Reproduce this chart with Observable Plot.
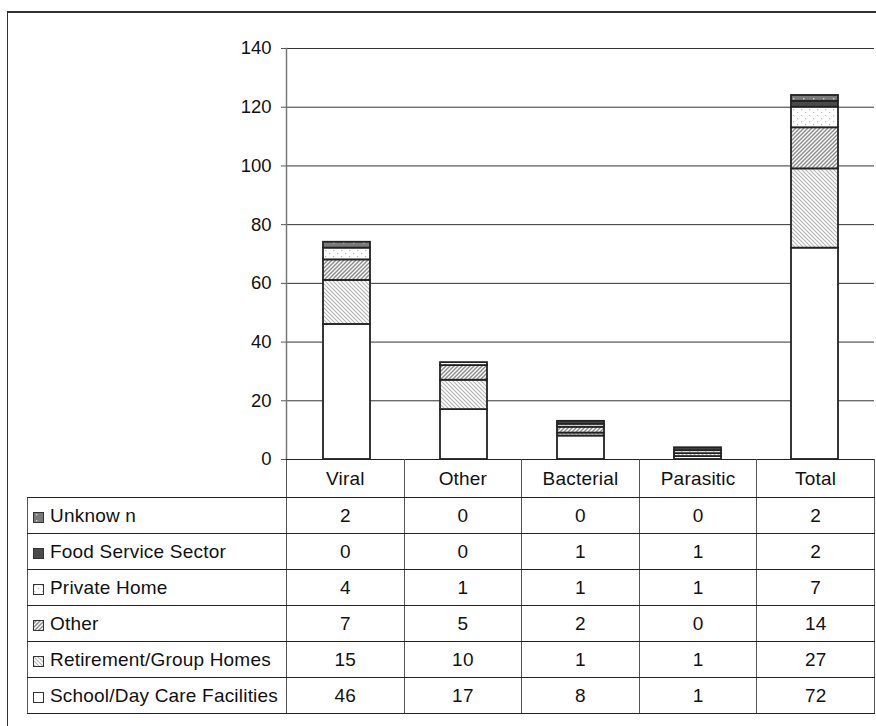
<!DOCTYPE html>
<html>
<head>
<meta charset="utf-8">
<script src="https://cdn.jsdelivr.net/npm/d3@7"></script>
<script src="https://cdn.jsdelivr.net/npm/@observablehq/plot@0.6"></script>
<style>
  body { margin: 0; background: #fff; font-family: "Liberation Sans", Arial, sans-serif; }
  #wrap { position: relative; width: 876px; height: 726px; overflow: hidden; }
  #frame { position: absolute; left: 7px; top: 11px; width: 900px; height: 800px;
           border-left: 1.5px solid #333; border-top: 2px solid #333; }
  #chart { position: absolute; left: 0; top: 0; }
  #defs { position: absolute; left: 0; top: 0; width: 0; height: 0; }
  #tbl { position: absolute; left: 27px; top: 459px; border-collapse: collapse;
         table-layout: fixed; font-size: 19px; letter-spacing: 0.2px; color: #111; }
  #tbl td { padding: 0; border-top: 1px solid #222; border-bottom: 1px solid #222;
            border-left: 1px solid #555; border-right: 1px solid #555;
            text-align: center; height: 35px; white-space: nowrap; }
  #tbl tr.head td { height: 37px; }
  #tbl tr.head td.blank { border: none; }
  #tbl td.label { text-align: left; padding-left: 5px; }
  #tbl td.label svg { vertical-align: -1px; margin-right: 6px; }
</style>
</head>
<body>
<div id="wrap">
  <div id="frame"></div>
  <svg id="defs" width="0" height="0">
    <defs>
      <pattern id="pat-retire" patternUnits="userSpaceOnUse" width="4" height="4">
        <rect width="4" height="4" fill="#fff"/>
        <path d="M-1,-1 L5,5 M3,-1 L5,1 M-1,3 L1,5" stroke="#b4b4b4" stroke-width="1.1"/>
      </pattern>
      <pattern id="pat-other" patternUnits="userSpaceOnUse" width="4" height="4">
        <rect width="4" height="4" fill="#fff"/>
        <path d="M-1,5 L5,-1 M-1,1 L1,-1 M3,5 L5,3" stroke="#8c8c8c" stroke-width="1.5"/>
      </pattern>
      <pattern id="pat-private" patternUnits="userSpaceOnUse" width="8" height="6">
        <rect width="8" height="6" fill="#fff"/>
        <rect x="1" y="1" width="1.2" height="1.2" fill="#bdbdbd"/>
        <rect x="5" y="4" width="1.2" height="1.2" fill="#bdbdbd"/>
      </pattern>
      <pattern id="pat-unknown" patternUnits="userSpaceOnUse" width="10" height="6">
        <rect width="10" height="6" fill="#7a7a7a"/>
        <rect x="3" y="2" width="1.4" height="1.4" fill="#cfcfcf"/>
      </pattern>
    </defs>
  </svg>
  <div id="chart"></div>
  <table id="tbl"></table>
</div>
<script>
// Outbreak counts by agent group (columns) and setting (stack layers, bottom first)
const categories = ["Viral", "Other", "Bacterial", "Parasitic", "Total"];
const settings = ["School/Day Care Facilities", "Retirement/Group Homes", "Other",
                  "Private Home", "Food Service Sector", "Unknow n"];
const schoolDayCare   = [46, 17, 8, 1, 72];
const retirementGroup = [15, 10, 1, 1, 27];
const otherSetting    = [7, 5, 2, 0, 14];
const privateHome     = [4, 1, 1, 1, 7];
const foodService     = [0, 0, 1, 1, 2];
const unknownSetting  = [2, 0, 0, 0, 2];
const yTicks = [0, 20, 40, 60, 80, 100, 120, 140];

const seriesValues = [schoolDayCare, retirementGroup, otherSetting, privateHome, foodService, unknownSetting];
const fills = ["#ffffff", "url(#pat-retire)", "url(#pat-other)", "url(#pat-private)", "#4a4a4a", "url(#pat-unknown)"];

const rows = [];
settings.forEach((s, i) => {
  categories.forEach((c, j) => rows.push({category: c, setting: s, count: seriesValues[i][j]}));
});

const chart = Plot.plot({
  width: 876,
  height: 480,
  marginLeft: 286,
  marginRight: 2,
  marginTop: 48,
  marginBottom: 21,
  style: {fontFamily: "'Liberation Sans', Arial, sans-serif", fontSize: "18.5px", color: "#111", background: "transparent"},
  x: {domain: categories, paddingInner: 0.6, paddingOuter: 0.3, axis: null},
  y: {domain: [0, 140], axis: null},
  color: {domain: settings, range: fills},
  marks: [
    Plot.ruleY(yTicks.filter(d => d > 0), {stroke: "#333", strokeWidth: 1}),
    Plot.frame({anchor: "left", stroke: "#777", strokeWidth: 1.5}),
    Plot.axisY(yTicks, {tickSize: 5, tickPadding: 10, stroke: "#555", fontSize: 18.5, label: null}),
    Plot.barY(rows.filter(d => d.count > 0), Plot.stackY({
      x: "category", y: "count", fill: "setting", stroke: "#222", strokeWidth: 1.8
    }))
  ]
});
document.getElementById("chart").appendChild(chart);

// Data table under the bars: header row of categories, then one row per setting (top layer first)
const tbl = d3.select("#tbl");
const cg = tbl.append("colgroup");
cg.append("col").style("width", "259px");
categories.forEach(() => cg.append("col").style("width", "117.6px"));
const head = tbl.append("tr").attr("class", "head");
head.append("td").attr("class", "blank");
categories.forEach(c => head.append("td").text(c));
settings.map((s, i) => i).reverse().forEach(i => {
  const tr = tbl.append("tr");
  const lab = tr.append("td").attr("class", "label");
  const icon = lab.append("svg").attr("width", 11).attr("height", 11);
  icon.append("rect").attr("x", 0.5).attr("y", 0.5).attr("width", 10).attr("height", 10)
    .attr("fill", fills[i]).attr("stroke", "#333").attr("stroke-width", 1);
  lab.append("span").text(settings[i]);
  seriesValues[i].forEach(v => tr.append("td").text(v));
});
</script>
</body>
</html>
